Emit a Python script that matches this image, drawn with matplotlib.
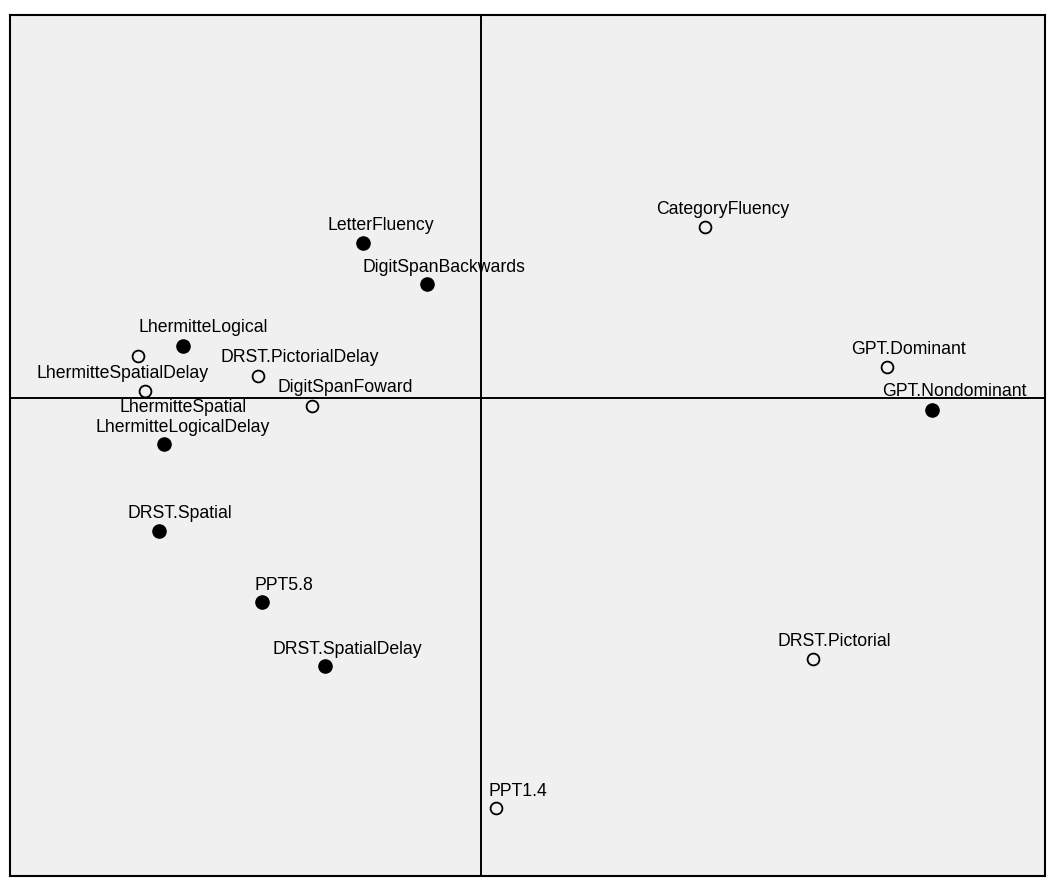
import numpy as np
import matplotlib.pyplot as plt

plt.rcParams['font.family'] = ['Liberation Sans', 'DejaVu Sans']

# variables and their map coordinates (crosshair at 0, 0)
names = ['LetterFluency', 'DigitSpanBackwards', 'CategoryFluency', 'LhermitteLogical',
         'LhermitteSpatialDelay', 'DRST.PictorialDelay', 'LhermitteSpatial', 'DigitSpanFoward',
         'LhermitteLogicalDelay', 'GPT.Dominant', 'GPT.Nondominant', 'DRST.Spatial',
         'PPT5.8', 'DRST.SpatialDelay', 'DRST.Pictorial', 'PPT1.4']
x_vals = [-1.18, -0.54, 2.24, -2.98, -3.43, -2.23, -3.36, -1.69,
          -3.17, 4.06, 4.51, -3.22, -2.19, -1.56, 3.32, 0.15]
y_vals = [1.55, 1.14, 1.71, 0.52, 0.42, 0.22, 0.07, -0.08,
          -0.46, 0.31, -0.12, -1.33, -2.04, -2.68, -2.61, -4.10]
filled = [True, True, False, True, False, False, False, False,
          True, False, True, True, True, True, False, False]

# label offsets from the point (same units)
label_dx = [0.18, 0.17, 0.18, 0.20, -0.15, 0.42, 0.38, 0.33,
            0.19, 0.22, 0.22, 0.21, 0.22, 0.22, 0.21, 0.22]
label_dy = [0.17, 0.17, 0.17, 0.18, -0.18, 0.19, -0.16, 0.18,
            0.17, 0.17, 0.18, 0.17, 0.17, 0.17, 0.17, 0.17]

fig = plt.figure(figsize=(10.5, 8.84), dpi=100)
ax = fig.add_axes([10/1050, 8/884, 1035/1050, 861/884])
ax.set_facecolor('#f0f0f0')

ax.axhline(0, color='black', lw=1.4, zorder=1)
ax.axvline(0, color='black', lw=1.4, zorder=1)

for n, x, y, f, dx, dy in zip(names, x_vals, y_vals, filled, label_dx, label_dy):
    if f:
        ax.plot(x, y, 'o', ms=9.5, mfc='black', mec='black', zorder=3)
    else:
        ax.plot(x, y, 'o', ms=8.5, mfc='none', mec='black', mew=1.3, zorder=3)
    ax.text(x + dx, y + dy, n, ha='center', va='center', fontsize=12.7, zorder=4)

ax.set_xlim(-4.71, 5.64)
ax.set_ylim(-4.78, 3.83)
ax.set_xticks([])
ax.set_yticks([])
for s in ax.spines.values():
    s.set_linewidth(1.5)

plt.savefig('out.png', dpi=100)
